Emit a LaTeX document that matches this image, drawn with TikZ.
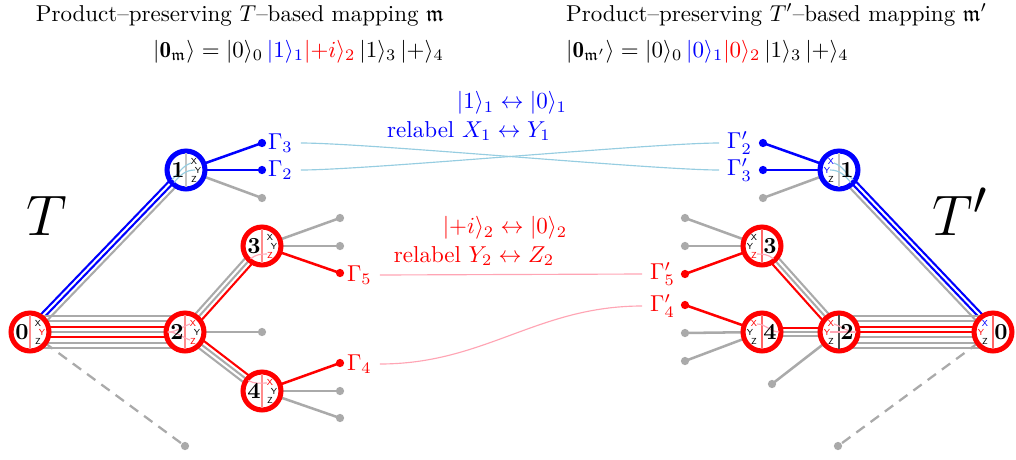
\documentclass[tikz,border=0pt]{standalone}
\usepackage{amsmath,amssymb}
\usepackage{fontspec}
\usetikzlibrary{calc}
\definecolor{lgray}{RGB}{170,170,170}
\definecolor{lblue}{RGB}{150,205,225}
\definecolor{lpink}{RGB}{255,165,180}
\pgfdeclarelayer{bg}
\pgfdeclarelayer{fg}
\pgfsetlayers{bg,main,fg}
\tikzset{
 qnode/.style={circle, minimum size=16.5pt, inner sep=0pt, line width=2.2pt, fill=white},
 lett/.style={font=\sffamily\fontsize{3.8}{4}\selectfont, inner sep=0pt},
 num/.style={font=\bfseries, inner sep=0pt},
 leafdot/.style={circle, inner sep=0pt, minimum size=3.6pt},
 leaf/.style={line width=1.1pt},
 bline/.style={line width=0.9pt},
 faint/.style={line width=0.5pt},
 link/.style={line width=0.5pt},
}
% from, to, number of lines, spacing (pt), colours
\newcommand\bundle[5]{%
 \foreach \bcol [count=\bi] in {#5} {
   \pgfmathsetmacro\boff{((#3+1)/2-\bi)*#4}
   \draw[bline,\bcol] ($(#1.center)!\boff pt!90:(#2.center)$) -- ($(#2.center)!\boff pt!-90:(#1.center)$);
 }}
\newcommand\qn[9]{%
 \node[qnode,draw=#3] (#1) at (#2) {};
 \draw[#6, line width=0.6pt] ($(#1.center)+(0,-17)$) -- ($(#1.center)+(0,17)$);
 \begin{pgfonlayer}{fg}
 \node[num] at ($(#1.center)+({-8*#5},0)$) {#4};
 \node[lett,text=#7] at ($(#1.center)+({8*#5},-9)$) {X};
 \node[lett,text=#8] at ($(#1.center)+({12*#5},0)$) {Y};
 \node[lett,text=#9] at ($(#1.center)+({8*#5},9)$) {Z};
 \end{pgfonlayer}
}
\begin{document}
\begin{tikzpicture}[x=0.435pt,y=-0.435pt]
\useasboundingbox (0,0) rectangle (1016,459);

% titles
\node[anchor=base east] (t1) at (452,21) {Product--preserving $T$--based mapping $\mathfrak{m}$};
\node[anchor=base east] (e1) at (452,57) {$|\mathbf{0}_{\mathfrak{m}}\rangle = |0\rangle_0\,\textcolor{blue}{|1\rangle_1}\textcolor{red}{|{+i}\rangle_2}\,|1\rangle_3\,|{+}\rangle_4$};
\node[anchor=base west] (t2) at (558,21) {Product--preserving $T'$--based mapping $\mathfrak{m}'$};
\node[anchor=base west] (e2) at (558,57) {$|\mathbf{0}_{\mathfrak{m}'}\rangle = |0\rangle_0\,\textcolor{blue}{|0\rangle_1}\textcolor{red}{|0\rangle_2}\,|1\rangle_3\,|{+}\rangle_4$};

% big labels
\node[font=\Huge, anchor=base] (bigT) at (47,235) {$T$};
\node[font=\Huge, anchor=base] (bigTp) at (960,235) {$T'$};

% middle labels
\node[text=blue] (k1) at (512,103) {$|1\rangle_1 \leftrightarrow |0\rangle_1$};
\node[text=blue] (k2) at (469,131) {relabel $X_1 \leftrightarrow Y_1$};
\node[text=red] (k3) at (505,228) {$|{+i}\rangle_2 \leftrightarrow |0\rangle_2$};
\node[text=red] (k4) at (474,256) {relabel $Y_2 \leftrightarrow Z_2$};

% tree nodes
\qn{n0}{30,332}{red}{0}{1}{red!45}{black}{red}{black}
\qn{n1}{186,170}{blue}{1}{1}{lgray!70}{black}{black}{black}
\qn{n2}{185,332}{red}{2}{1}{red!45}{red}{black}{red}
\qn{n3}{262,246}{red}{3}{1}{red!45}{black}{black}{red}
\qn{n4}{262,391}{red}{4}{1}{red!45}{red}{black}{black}
\qn{m0}{993,332}{red}{0}{-1}{red!60}{blue}{red}{black}
\qn{m1}{839,170}{blue}{1}{-1}{lgray!70}{blue}{blue}{black}
\qn{m2}{839,332}{red}{2}{-1}{black!70}{red}{red}{black}
\qn{m3}{762,246}{red}{3}{-1}{red!60}{black}{black}{red}
\qn{m4}{762,332}{red}{4}{-1}{red!60}{red}{black}{black}

% faint inner lines
\draw[faint,lblue] ($(n1.center)!7.5pt!(n0.center)$) to[out=50,in=180] ($(n1.center)+(9,0)$);
\draw[faint,lblue] ($(n1.center)!7.5pt!-12:(n0.center)$) to[out=40,in=200] ($(n1.center)+(5,-7)$);
\draw[faint,lpink] ($(n2.center)!7.5pt!(n0.center)$) to[out=0,in=200] ($(n2.center)+(5,-8)$);
\draw[faint,lpink] ($(n2.center)!7.5pt!(n0.center)$) to[out=0,in=160] ($(n2.center)+(5,8)$);
\draw[faint,lpink] ($(n3.center)!7.5pt!(n2.center)$) to[out=40,in=180] ($(n3.center)+(5,8)$);
\draw[faint,lpink] ($(n4.center)!7.5pt!(n2.center)$) to[out=-30,in=180] ($(n4.center)+(5,-8)$);
\draw[faint,lblue] ($(m1.center)!7.5pt!(m0.center)$) to[out=130,in=0] ($(m1.center)+(-9,0)$);
\draw[faint,lblue] ($(m1.center)!7.5pt!12:(m0.center)$) to[out=140,in=-20] ($(m1.center)+(-5,-7)$);
\draw[faint,lpink] ($(m2.center)!7.5pt!(m0.center)$) to[out=180,in=-20] ($(m2.center)+(-5,-8)$);
\draw[faint,lpink] ($(m2.center)!7.5pt!(m0.center)$) to[out=180,in=0] ($(m2.center)+(-9,0)$);
\draw[faint,lpink] ($(m3.center)!7.5pt!(m2.center)$) to[out=140,in=0] ($(m3.center)+(-5,8)$);
\draw[faint,lpink] ($(m4.center)!7.5pt!(m2.center)$) to[out=180,in=0] ($(m4.center)+(-5,-8)$);

% leaf dots (left)
\node[leafdot,fill=blue] (l1a) at (262,143) {};
\node[leafdot,fill=blue] (l1b) at (262,170) {};
\node[leafdot,fill=lgray] (l1c) at (262,198) {};
\node[leafdot,fill=lgray] (l3a) at (340,218) {};
\node[leafdot,fill=lgray] (l3b) at (340,246) {};
\node[leafdot,fill=red] (l3c) at (340,273) {};
\node[leafdot,fill=lgray] (l2a) at (262,332) {};
\node[leafdot,fill=red] (l4a) at (340,363) {};
\node[leafdot,fill=lgray] (l4b) at (340,391) {};
\node[leafdot,fill=lgray] (l4c) at (340,418) {};
\node[leafdot,fill=lgray] (l0) at (185,446) {};
% leaf dots (right)
\node[leafdot,fill=blue] (r1a) at (763,143) {};
\node[leafdot,fill=blue] (r1b) at (763,170) {};
\node[leafdot,fill=lgray] (r1c) at (763,198) {};
\node[leafdot,fill=lgray] (r3a) at (685,218) {};
\node[leafdot,fill=lgray] (r3b) at (685,246) {};
\node[leafdot,fill=red] (r3c) at (685,274) {};
\node[leafdot,fill=red] (r4a) at (685,305) {};
\node[leafdot,fill=lgray] (r4b) at (685,333) {};
\node[leafdot,fill=lgray] (r4c) at (685,361) {};
\node[leafdot,fill=lgray] (r2a) at (772,384) {};
\node[leafdot,fill=lgray] (r0) at (838,446) {};

% Gamma labels
\node[anchor=west,text=blue] (g3) at (260,143) {$\Gamma_3$};
\node[anchor=west,text=blue] (g2) at (260,170) {$\Gamma_2$};
\node[anchor=west,text=red] (g5) at (339,275) {$\Gamma_5$};
\node[anchor=west,text=red] (g4) at (339,364) {$\Gamma_4$};
\node[anchor=east,text=blue] (g2p) at (760,143) {$\Gamma'_2$};
\node[anchor=east,text=blue] (g3p) at (760,170) {$\Gamma'_3$};
\node[anchor=east,text=red] (g5p) at (683,274) {$\Gamma'_5$};
\node[anchor=east,text=red] (g4p) at (683,306) {$\Gamma'_4$};

\begin{pgfonlayer}{bg}
% bundles
\bundle{n0}{n1}{3}{1.9}{blue,blue,lgray}
\bundle{n0}{n2}{7}{2.3}{lgray,lgray,red,lgray,red,lgray,lgray}
\bundle{n2}{n3}{3}{1.9}{lgray,lgray,red}
\bundle{n2}{n4}{3}{1.9}{red,lgray,lgray}
\bundle{m1}{m0}{3}{1.9}{blue,blue,lgray}
\bundle{m2}{m0}{7}{2.3}{lgray,lgray,red,red,lgray,lgray,lgray}
\bundle{m3}{m2}{3}{1.9}{lgray,lgray,red}
\bundle{m4}{m2}{3}{1.9}{red,lgray,lgray}
% leaves left
\draw[leaf,blue] (n1.center) -- (l1a.center);
\draw[leaf,blue] (n1.center) -- (l1b.center);
\draw[leaf,lgray] (n1.center) -- (l1c.center);
\draw[leaf,lgray] (n3.center) -- (l3a.center);
\draw[leaf,lgray] (n3.center) -- (l3b.center);
\draw[leaf,red] (n3.center) -- (l3c.center);
\draw[leaf,lgray] (n2.center) -- (l2a.center);
\draw[leaf,red] (n4.center) -- (l4a.center);
\draw[leaf,lgray] (n4.center) -- (l4b.center);
\draw[leaf,lgray] (n4.center) -- (l4c.center);
\draw[lgray, line width=1pt, dash pattern=on 4.5pt off 3.2pt] (n0.center) -- (l0.center);
% leaves right
\draw[leaf,blue] (m1.center) -- (r1a.center);
\draw[leaf,blue] (m1.center) -- (r1b.center);
\draw[leaf,lgray] (m1.center) -- (r1c.center);
\draw[leaf,lgray] (m3.center) -- (r3a.center);
\draw[leaf,lgray] (m3.center) -- (r3b.center);
\draw[leaf,red] (m3.center) -- (r3c.center);
\draw[leaf,red] (m4.center) -- (r4a.center);
\draw[leaf,lgray] (m4.center) -- (r4b.center);
\draw[leaf,lgray] (m4.center) -- (r4c.center);
\draw[leaf,lgray] (m2.center) -- (r2a.center);
\draw[lgray, line width=1pt, dash pattern=on 4.5pt off 3.2pt] (m0.center) -- (r0.center);
% links between trees
\draw[link,lblue] (g3.east) to[out=0,in=180,looseness=0.4] (g3p.west);
\draw[link,lblue] (g2.east) to[out=0,in=180,looseness=0.4] (g2p.west);
\draw[link,lpink] (g5.east) -- (g5p.west);
\draw[link,lpink] (g4.east) to[out=0,in=180] (g4p.west);
\end{pgfonlayer}
\end{tikzpicture}
\end{document}
